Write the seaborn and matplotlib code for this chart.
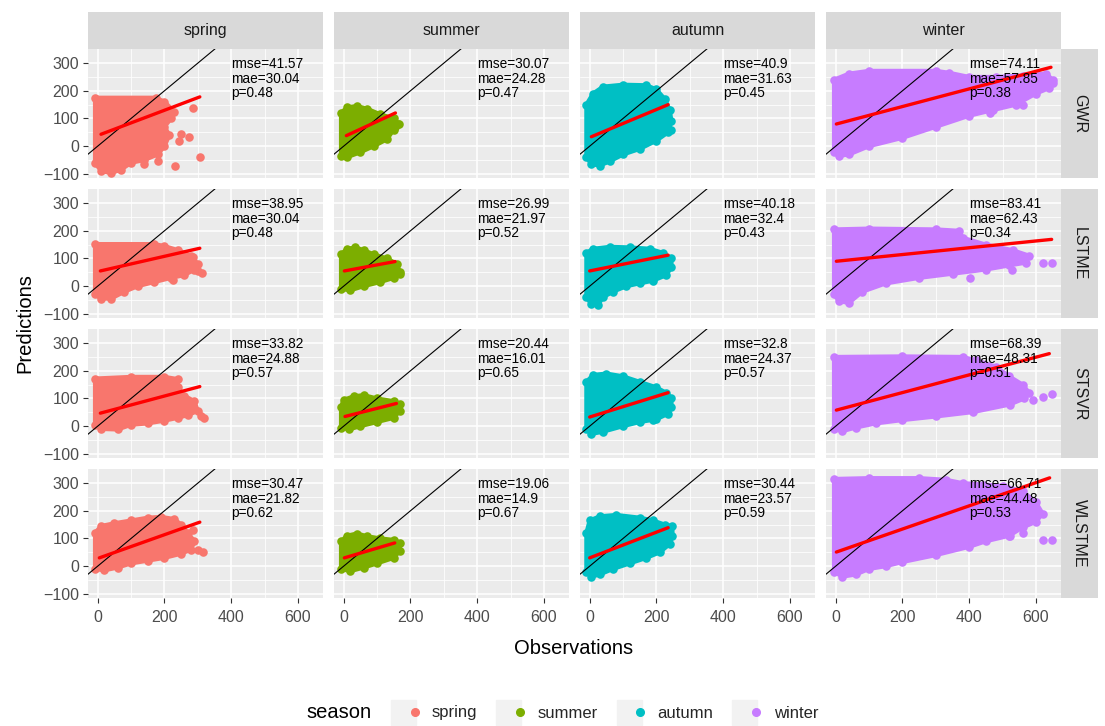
import matplotlib
matplotlib.use("Agg")
import matplotlib.pyplot as plt
import pandas as pd
import seaborn as sns
from matplotlib.lines import Line2D
from matplotlib.legend_handler import HandlerTuple

seasons = ["spring", "summer", "autumn", "winter"]
models = ["GWR", "LSTME", "STSVR", "WLSTME"]
season_colors = ["#F8766D", "#7CAE00", "#00BFC4", "#C77CFF"]

# metrics, one row per model, one column per season
rmse = [["41.57", "30.07", "40.9", "74.11"],
        ["38.95", "26.99", "40.18", "83.41"],
        ["33.82", "20.44", "32.8", "68.39"],
        ["30.47", "19.06", "30.44", "66.71"]]
mae = [["30.04", "24.28", "31.63", "57.85"],
       ["30.04", "21.97", "32.4", "62.43"],
       ["24.88", "16.01", "24.37", "48.31"],
       ["21.82", "14.9", "23.57", "44.48"]]
pval = [["0.48", "0.47", "0.45", "0.38"],
        ["0.48", "0.52", "0.43", "0.34"],
        ["0.57", "0.65", "0.57", "0.51"],
        ["0.62", "0.67", "0.59", "0.53"]]

# fitted lines (obs start, pred start, obs end, pred end)
fit_gwr = [(10, 43, 306, 178), (8, 38, 155, 120), (5, 34, 235, 150), (2, 80, 645, 285)]
fit_lstme = [(8, 55, 306, 137), (2, 55, 154, 89), (0, 55, 235, 112), (2, 90, 647, 169)]
fit_stsvr = [(8, 47, 306, 143), (4, 35, 158, 82), (0, 33, 235, 121), (2, 58, 640, 262)]
fit_wlstme = [(5, 30, 306, 159), (2, 30, 153, 84), (0, 30, 235, 139), (2, 51, 641, 319)]

identity = [-100, 700]

# outline of the dense point clouds (obs, pred)
cloud_spring_gwr = [(-8, -60), (10, -90), (40, -97), (70, -85), (100, -60), (140, -50), (180, -30), (200, 0),
                    (215, 40), (200, 70), (220, 100), (230, 125), (200, 160), (175, 175), (-8, 175)]
cloud_summer_gwr = [(-8, -35), (10, -40), (50, -22), (90, 0), (130, 25), (150, 60), (165, 80), (150, 100),
                    (110, 115), (70, 135), (40, 145), (10, 140), (-8, 120)]
cloud_autumn_gwr = [(-10, -40), (5, -65), (30, -70), (60, -55), (100, -30), (150, -10), (200, 20), (235, 50),
                    (245, 90), (240, 130), (225, 170), (200, 205), (170, 220), (100, 222), (40, 215),
                    (10, 190), (-10, 150)]
cloud_winter_gwr = [(-5, -20), (10, -35), (40, -30), (100, 0), (200, 30), (300, 70), (400, 110), (470, 130),
                    (540, 150), (600, 190), (640, 210), (650, 240), (630, 262), (560, 255), (480, 250),
                    (400, 250), (340, 265), (300, 272), (100, 272), (40, 262), (-5, 240)]

cloud_spring_lstme = [(-8, -30), (10, -45), (40, -45), (80, -20), (120, 0), (170, 15), (220, 30), (260, 40),
                      (290, 60), (300, 80), (280, 110), (240, 130), (200, 145), (170, 152), (-8, 152)]
cloud_summer_lstme = [(-8, -10), (20, -15), (60, 0), (110, 15), (150, 30), (168, 50), (160, 80), (130, 100),
                      (90, 115), (60, 130), (35, 140), (10, 135), (-8, 115)]
cloud_autumn_lstme = [(-10, -40), (5, -65), (25, -68), (40, -40), (70, -20), (110, 0), (150, 10), (190, 20),
                      (230, 40), (245, 70), (245, 100), (220, 120), (180, 135), (120, 140), (60, 142),
                      (10, 135), (-10, 120)]
cloud_winter_lstme = [(-5, -30), (10, -55), (40, -60), (80, -20), (150, 10), (250, 30), (350, 45), (450, 60),
                      (520, 75), (570, 85), (580, 110), (530, 130), (450, 150), (380, 175), (370, 200),
                      (300, 205), (100, 208), (-5, 205)]

cloud_spring_stsvr = [(-8, 5), (10, -10), (60, -12), (100, 5), (150, 10), (200, 20), (240, 30), (270, 40),
                      (300, 55), (290, 90), (260, 110), (240, 140), (240, 170), (200, 178), (100, 178),
                      (-8, 172)]
cloud_summer_stsvr = [(-8, -5), (15, -12), (50, 0), (100, 15), (150, 30), (168, 55), (168, 80), (150, 90),
                      (100, 100), (60, 112), (30, 108), (0, 95), (-8, 70)]
cloud_autumn_stsvr = [(-10, -10), (5, -28), (40, -20), (100, 0), (150, 15), (200, 25), (235, 45), (245, 70),
                      (245, 100), (230, 120), (200, 140), (150, 160), (100, 180), (50, 190), (10, 185),
                      (-10, 160)]
cloud_winter_stsvr = [(-5, -10), (20, -18), (60, -5), (120, 10), (200, 22), (300, 35), (412, 51), (521, 78),
                      (565, 100), (580, 120), (560, 150), (520, 180), (480, 215), (420, 238), (380, 250),
                      (200, 252), (-5, 250)]

cloud_spring_wlstme = [(-8, -10), (20, -15), (60, -5), (100, 10), (150, 20), (200, 30), (250, 45), (280, 60),
                       (290, 90), (270, 120), (250, 150), (230, 170), (190, 178), (150, 175), (100, 165),
                       (50, 155), (10, 145), (-8, 120)]
cloud_summer_wlstme = [(-8, -10), (20, -18), (60, -5), (100, 10), (150, 30), (168, 55), (168, 85), (150, 95),
                       (110, 100), (70, 108), (40, 118), (10, 110), (-8, 90)]
cloud_autumn_wlstme = [(-10, -20), (5, -38), (30, -30), (70, -10), (120, 10), (170, 30), (210, 50), (240, 80),
                       (248, 110), (248, 145), (225, 150), (190, 165), (150, 175), (80, 185), (30, 180),
                       (0, 165), (-10, 120)]
cloud_winter_wlstme = [(-5, -20), (20, -38), (60, -30), (100, -10), (150, 0), (200, 15), (300, 40), (400, 70),
                       (450, 90), (520, 110), (560, 140), (600, 160), (620, 190), (600, 230), (560, 270),
                       (500, 290), (440, 295), (380, 300), (330, 312), (250, 318), (100, 318), (-5, 315)]

# isolated points outside the clouds
extra_spring_gwr = [(285, 137), (275, 33), (306, -40), (232, -70), (140, -64), (250, 45), (245, 20), (180, -55)]
extra_summer_gwr = [(163, 80), (155, 70)]
extra_autumn_gwr = [(245, 60)]
extra_winter_gwr = [(652, 228), (630, 250), (461, 120), (560, 150)]
extra_spring_lstme = [(285, 107), (312, 46), (226, 24), (300, 55)]
extra_summer_lstme = [(168, 45)]
extra_autumn_lstme = [(191, 25)]
extra_winter_lstme = [(620, 84), (647, 84), (527, 60), (401, 30)]
extra_spring_stsvr = [(310, 35), (320, 28), (280, 60)]
extra_summer_stsvr = []
extra_autumn_stsvr = [(191, 21)]
extra_winter_stsvr = [(620, 104), (647, 118), (590, 95)]
extra_spring_wlstme = [(285, 130), (300, 60), (315, 50)]
extra_summer_wlstme = []
extra_autumn_wlstme = []
extra_winter_wlstme = [(620, 96), (647, 96), (521, 108), (489, 145), (560, 120)]

clouds = [[cloud_spring_gwr, cloud_summer_gwr, cloud_autumn_gwr, cloud_winter_gwr],
          [cloud_spring_lstme, cloud_summer_lstme, cloud_autumn_lstme, cloud_winter_lstme],
          [cloud_spring_stsvr, cloud_summer_stsvr, cloud_autumn_stsvr, cloud_winter_stsvr],
          [cloud_spring_wlstme, cloud_summer_wlstme, cloud_autumn_wlstme, cloud_winter_wlstme]]
extras = [[extra_spring_gwr, extra_summer_gwr, extra_autumn_gwr, extra_winter_gwr],
          [extra_spring_lstme, extra_summer_lstme, extra_autumn_lstme, extra_winter_lstme],
          [extra_spring_stsvr, extra_summer_stsvr, extra_autumn_stsvr, extra_winter_stsvr],
          [extra_spring_wlstme, extra_summer_wlstme, extra_autumn_wlstme, extra_winter_wlstme]]
fits = [fit_gwr, fit_lstme, fit_stsvr, fit_wlstme]

sns.set_theme(style="darkgrid")
plt.rcParams["font.family"] = ["Liberation Sans", "DejaVu Sans"]

W, H = 1105, 726
fig = plt.figure(figsize=(W / 100, H / 100), dpi=100)

col_left = [88, 334, 580, 826]
row_top = [49, 189, 329, 469]
pw, ph = 235, 129


def fbox(x, y, w, h):
    return [x / W, 1 - (y + h) / H, w / W, h / H]


def strip(box, label, rot):
    sax = fig.add_axes(box)
    sax.set_facecolor("#D9D9D9")
    sax.set_xticks([])
    sax.set_yticks([])
    for s in sax.spines.values():
        s.set_visible(False)
    sax.text(0.5, 0.5, label, ha="center", va="center", fontsize=11.5, color="#1A1A1A",
             rotation=rot, transform=sax.transAxes)


for i, model in enumerate(models):
    for j, season in enumerate(seasons):
        c = season_colors[j]
        ax = fig.add_axes(fbox(col_left[j], row_top[i], pw, ph))
        ax.set_facecolor("#EBEBEB")
        poly = pd.DataFrame(clouds[i][j], columns=["obs", "pred"])
        ax.fill(poly["obs"], poly["pred"], color=c, ec=c, lw=3, joinstyle="round", zorder=2)
        pts = pd.concat([poly, pd.DataFrame(extras[i][j], columns=["obs", "pred"])], ignore_index=True)
        sns.scatterplot(data=pts, x="obs", y="pred", color=c, s=38, linewidth=0, ax=ax, zorder=3)
        ax.plot(identity, identity, color="black", lw=0.8, zorder=4)
        x0, y0, x1, y1 = fits[i][j]
        fit = pd.DataFrame({"obs": [x0, x1], "pred": [y0, y1]})
        sns.lineplot(data=fit, x="obs", y="pred", color="red", lw=2.4, ax=ax, zorder=5)
        ax.text(400, 322, f"rmse={rmse[i][j]}\nmae={mae[i][j]}\np={pval[i][j]}",
                ha="left", va="top", fontsize=9.8, color="black", linespacing=1.05, zorder=6)

        ax.set_xlim(-29, 675)
        ax.set_ylim(-115, 351)
        ax.set_xticks([0, 200, 400, 600])
        ax.set_xticks([100, 300, 500], minor=True)
        ax.set_yticks([-100, 0, 100, 200, 300])
        ax.set_yticks([-50, 50, 150, 250], minor=True)
        ax.grid(which="major", color="white", lw=1.1)
        ax.grid(which="minor", color="white", lw=0.55)
        ax.set_axisbelow(True)
        for s in ax.spines.values():
            s.set_visible(False)
        ax.set_xlabel("")
        ax.set_ylabel("")
        ax.tick_params(which="major", length=3.5, width=0.8, color="#333333", labelcolor="#4D4D4D",
                       labelsize=11.5, pad=3, bottom=(i == 3), left=(j == 0),
                       labelbottom=(i == 3), labelleft=(j == 0))
        ax.tick_params(axis="x", which="major", pad=5)
        ax.tick_params(which="minor", length=0)

        if i == 0:
            strip(fbox(col_left[j], 12, pw, 37), season, 0)
        if j == 3:
            strip(fbox(1061, row_top[i], 37, ph), model, -90)

fig.text(574 / W, 1 - 648 / H, "Observations", ha="center", va="center", fontsize=14.5, color="black")
fig.text(25 / W, 1 - 323 / H, "Predictions", ha="center", va="center", rotation=90, fontsize=14.5,
         color="black")

# legend along the bottom
fig.text(372 / W, 1 - 713 / H, "season", ha="right", va="center", fontsize=14.5, color="black")
handles = []
for c in season_colors:
    key = Line2D([], [], marker="s", markersize=18, color="#F2F2F2", lw=0)
    dot = Line2D([], [], marker="o", markersize=5.5, color=c, lw=0)
    handles.append((key, dot))
fig.legend(handles, seasons, handler_map={tuple: HandlerTuple(ndivide=None, pad=0)},
           loc="center left", bbox_to_anchor=(382 / W, 1 - 713 / H), ncol=4, frameon=False,
           fontsize=12, handlelength=1.4, handletextpad=0.7, columnspacing=1.5)

fig.savefig("out.png", dpi=100)
